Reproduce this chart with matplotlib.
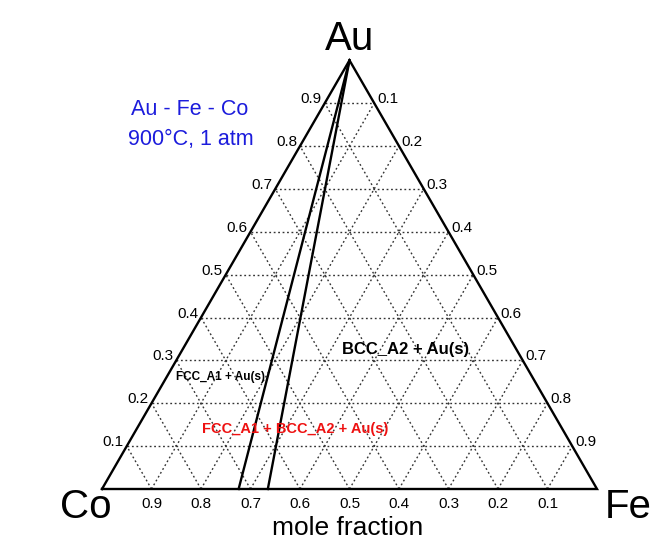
import numpy as np
import matplotlib
matplotlib.use("Agg")
import matplotlib.pyplot as plt

plt.rcParams['font.family'] = ['Liberation Sans', 'DejaVu Sans']

# ---- data ----
vertices = ["Au", "Co", "Fe"]
grid_values = [0.1, 0.2, 0.3, 0.4, 0.5, 0.6, 0.7, 0.8, 0.9]
tick_labels = ["0.1", "0.2", "0.3", "0.4", "0.5", "0.6", "0.7", "0.8", "0.9"]
# phase boundaries: straight lines from the Au corner to the Co-Fe edge (Co fraction at base)
boundary_co_at_base = [0.724, 0.665]
region_labels = ["BCC_A2 + Au(s)", "FCC_A1 + Au(s)", "FCC_A1 + BCC_A2 + Au(s)"]
title_lines = ["Au - Fe - Co", "900°C, 1 atm"]

SQ3 = np.sqrt(3) / 2


def tern(au, fe, co):
    """ternary -> cartesian (Co at origin, Fe at (1,0), Au on top)"""
    return fe + au / 2.0, au * SQ3


W, H = 665, 546
S = 495.0          # pixels per unit edge
X0, Y0 = 102.0, 57.0  # Co corner in pixels (from left, from bottom)

fig = plt.figure(figsize=(W / 100, H / 100), dpi=100)
ax = fig.add_axes([0, 0, 1, 1])
ax.set_xlim(-X0 / S, (W - X0) / S)
ax.set_ylim(-Y0 / S, (H - Y0) / S)
ax.axis('off')


def px(x, y_top):
    """pixel (from top-left) -> data coords, for text placement"""
    return (x - X0) / S, (H - y_top - Y0) / S


grid_kw = dict(color='#333333', lw=1.0, ls=(0, (1.3, 1.9)), zorder=1)
for v in grid_values:
    # Au = v (horizontal)
    a = tern(v, 0, 1 - v); b = tern(v, 1 - v, 0)
    ax.plot([a[0], b[0]], [a[1], b[1]], **grid_kw)
    # Fe = v
    a = tern(0, v, 1 - v); b = tern(1 - v, v, 0)
    ax.plot([a[0], b[0]], [a[1], b[1]], **grid_kw)
    # Co = v
    a = tern(0, 1 - v, v); b = tern(1 - v, 0, v)
    ax.plot([a[0], b[0]], [a[1], b[1]], **grid_kw)

# triangle border
corners = [tern(0, 0, 1), tern(0, 1, 0), tern(1, 0, 0), tern(0, 0, 1)]
ax.plot([c[0] for c in corners], [c[1] for c in corners], color='black', lw=1.7,
        solid_joinstyle='miter', zorder=3)

# phase boundaries
for co in boundary_co_at_base:
    a = tern(1, 0, 0); b = tern(0, 1 - co, co)
    ax.plot([a[0], b[0]], [a[1], b[1]], color='black', lw=1.7, zorder=3)

# tick labels
tfs = 11
for v, lab in zip(grid_values, tick_labels):
    # left edge: Au fraction
    p = tern(v, 0, 1 - v)
    ax.annotate(lab, p, xytext=(-2, 0), textcoords='offset points',
                ha='right', va='baseline', fontsize=tfs)
    # right edge: Fe fraction
    p = tern(1 - v, v, 0)
    ax.annotate(lab, p, xytext=(2, 0), textcoords='offset points',
                ha='left', va='baseline', fontsize=tfs)
    # bottom: Co fraction
    p = tern(0, 1 - v, v)
    ax.annotate(lab, p, xytext=(0, -6), textcoords='offset points',
                ha='center', va='top', fontsize=tfs)

# vertex labels
ax.text(*px(350, 50), vertices[0], fontsize=29, ha='center', va='baseline')
ax.text(*px(86, 518), vertices[1], fontsize=29, ha='center', va='baseline')
ax.text(*px(628, 518), vertices[2], fontsize=29, ha='center', va='baseline')
ax.text(*px(348, 535), "mole fraction", fontsize=19, ha='center', va='baseline')

# title
blue = '#1c1cdc'
ax.text(*px(190, 115), title_lines[0], fontsize=15.5, color=blue, ha='center', va='baseline')
ax.text(*px(191, 145), title_lines[1], fontsize=15.5, color=blue, ha='center', va='baseline')

# region labels
ax.text(*px(406, 354), region_labels[0], fontsize=12, fontweight='bold',
        ha='center', va='baseline', zorder=4)
ax.text(*px(221, 380), region_labels[1], fontsize=8.5, fontweight='bold',
        ha='center', va='baseline', zorder=4)
ax.text(*px(295, 433), region_labels[2], fontsize=10.5, fontweight='bold',
        color='#ee1111', ha='center', va='baseline', zorder=4)

fig.savefig('out.png', dpi=100)
